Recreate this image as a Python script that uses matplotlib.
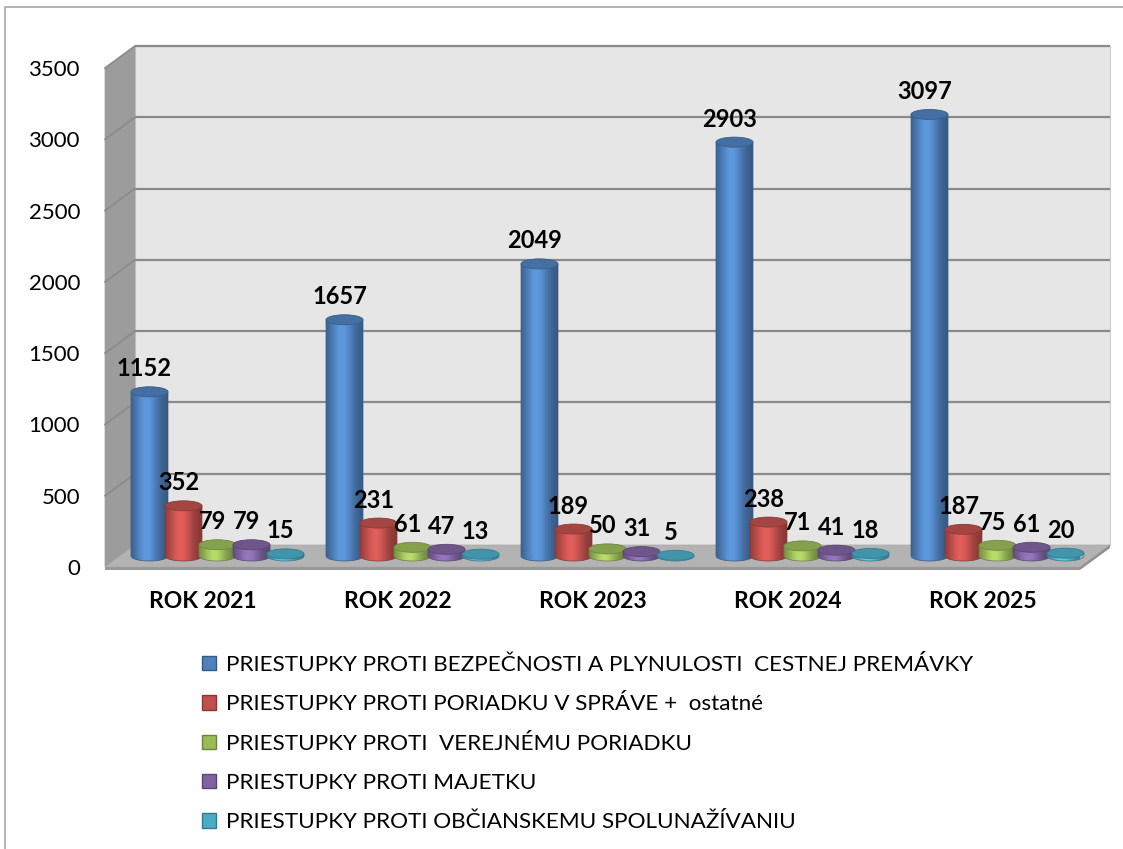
import numpy as np
import matplotlib
matplotlib.use("Agg")
import matplotlib.pyplot as plt
from matplotlib.patches import Rectangle, Polygon, Ellipse, Patch
from matplotlib.lines import Line2D
from matplotlib.colors import to_rgb

# --- data -------------------------------------------------------------------
years = ["ROK 2021", "ROK 2022", "ROK 2023", "ROK 2024", "ROK 2025"]
doprava = [1152, 1657, 2049, 2903, 3097]
sprava = [352, 231, 189, 238, 187]
verejny = [79, 61, 50, 71, 75]
majetok = [79, 47, 31, 41, 61]
spolunazivanie = [15, 13, 5, 18, 20]

names = [
    "PRIESTUPKY PROTI BEZPEČNOSTI A PLYNULOSTI  CESTNEJ PREMÁVKY",
    "PRIESTUPKY PROTI PORIADKU V SPRÁVE +  ostatné",
    "PRIESTUPKY PROTI  VEREJNÉMU PORIADKU",
    "PRIESTUPKY PROTI MAJETKU",
    "PRIESTUPKY PROTI OBČIANSKEMU SPOLUNAŽÍVANIU",
]
colors = ["#4F81BD", "#C0504D", "#9BBB59", "#8064A2", "#4BACC6"]
series = [doprava, sprava, verejny, majetok, spolunazivanie]
y_ticks = [0, 500, 1000, 1500, 2000, 2500, 3000, 3500]

plt.rcParams['font.family'] = ['Lato', 'DejaVu Sans']

W, H = 1123, 849
fig = plt.figure(figsize=(W / 100, H / 100), dpi=100)
ax = fig.add_axes([105 / W, 1 - 567 / H, 975 / W, 499 / H])
ax.set_xlim(0, 5)
ax.set_ylim(0, 3500)
ax.set_autoscale_on(False)
for s in ax.spines.values():
    s.set_visible(False)
ax.patch.set_visible(False)


def px(dx, dy):
    # pixel shift -> data shift
    inv = ax.transData.inverted()
    a = inv.transform((0, 0))
    b = inv.transform((dx, dy))
    return b[0] - a[0], b[1] - a[1]


ddx, ddy = px(30, 22)     # depth of the 3D box
mdx, mdy = px(15, 11)     # cylinders sit in the middle
bw = px(37, 0)[0]
step = px(34, 0)[0]
eh = px(0, 10)[1]
th = px(0, 3)[1]

# --- walls and floor ---------------------------------------------------------
ax.add_patch(Rectangle((ddx, ddy), 5, 3500, fc="#E6E6E6", ec="#CFCFCF",
                       lw=0.8, zorder=0, clip_on=False))
ax.add_patch(Polygon([(0, 0), (0, 3500), (ddx, 3500 + ddy), (ddx, ddy)],
                     fc="#9C9C9C", ec="#9C9C9C", lw=0.5, zorder=1, clip_on=False))
for v in y_ticks[1:]:
    ax.plot([ddx, 5 + ddx], [v + ddy, v + ddy], color="#8A8A8A", lw=1.6,
            zorder=1.5, clip_on=False, solid_capstyle="butt")
    ax.plot([0, ddx], [v, v + ddy], color="#8A8A8A", lw=1.2,
            zorder=1.5, clip_on=False)

ax.add_patch(Polygon([(0, 0), (5, 0), (5 + ddx, ddy), (ddx, ddy)],
                     fc="#B3B3B3", ec="#A8A8A8", lw=0.5, zorder=2, clip_on=False))
ax.add_patch(Polygon([(0, 0), (5, 0), (5, -th), (0, -th)],
                     fc="#999999", ec="none", zorder=2, clip_on=False))
ax.add_patch(Polygon([(5, 0), (5 + ddx, ddy), (5 + ddx, ddy - th), (5, -th)],
                     fc="#8F8F8F", ec="none", zorder=2, clip_on=False))

# --- cylinders ---------------------------------------------------------------
ramp = np.linspace(0, 1, 80)
glow = np.exp(-((ramp - 0.42) / 0.33) ** 2)
theta = np.linspace(np.pi, 2 * np.pi, 40)

for k, (vals, col) in enumerate(zip(series, colors)):
    rgb = np.array(to_rgb(col))
    shade = np.clip(rgb[None, :] * (0.68 + 0.5 * glow[:, None]), 0, 1)
    for i, v in enumerate(vals):
        xc = i + 0.5 + mdx + (k - 2) * step
        y0 = mdy
        y1 = v + mdy
        z = 3 + i * 10 + k
        arc = np.column_stack([xc + bw / 2 * np.cos(theta),
                               y0 + eh / 2 * np.sin(theta)])
        verts = [(xc - bw / 2, y1)] + arc.tolist() + [(xc + bw / 2, y1)]
        body = Polygon(verts, closed=True, fc="none", ec=rgb * 0.7, lw=0.5,
                       zorder=z + 0.1, clip_on=False)
        ax.add_patch(body)
        im = ax.imshow(shade[None], extent=(xc - bw / 2, xc + bw / 2,
                                            y0 - eh / 2, y1),
                       aspect="auto", interpolation="bilinear", zorder=z)
        im.set_clip_box(None)
        im.set_clip_path(body)
        ax.add_patch(Ellipse((xc, y1), bw, eh, fc=rgb * 0.86, ec=rgb * 0.72,
                             lw=0.6, zorder=z + 0.5, clip_on=False))
        ax.annotate(str(v), (xc, y1), xytext=(-5, 23), textcoords="offset pixels",
                    ha="center", va="center", fontsize=17, fontweight="bold",
                    zorder=100, annotation_clip=False)

ax.set_xlim(0, 5)
ax.set_ylim(0, 3500)

# --- axes labels -------------------------------------------------------------
ax.set_yticks(y_ticks)
ax.tick_params(axis="y", length=0, pad=18, labelsize=16)
ax.set_xticks(np.arange(len(years)) + 0.5, years, fontweight="bold")
ax.tick_params(axis="x", length=0, pad=17, labelsize=16.5)

# --- legend ------------------------------------------------------------------
handles = [Patch(fc=c, ec=np.array(to_rgb(c)) * 0.7, lw=1.0) for c in colors]
fig.legend(handles, names, loc="upper left", bbox_to_anchor=(202 / W, 1 - 655 / H),
           frameon=False, fontsize=16.2, handlelength=0.6, handleheight=0.6,
           handletextpad=0.45, labelspacing=0.86, borderpad=0, borderaxespad=0)

# frame of the original chart object
fig.add_artist(Line2D([5 / W, 5 / W, 1], [0, 1 - 7 / H, 1 - 7 / H],
                      color="#A6A6A6", lw=1.2))

fig.savefig("out.png", dpi=100)
